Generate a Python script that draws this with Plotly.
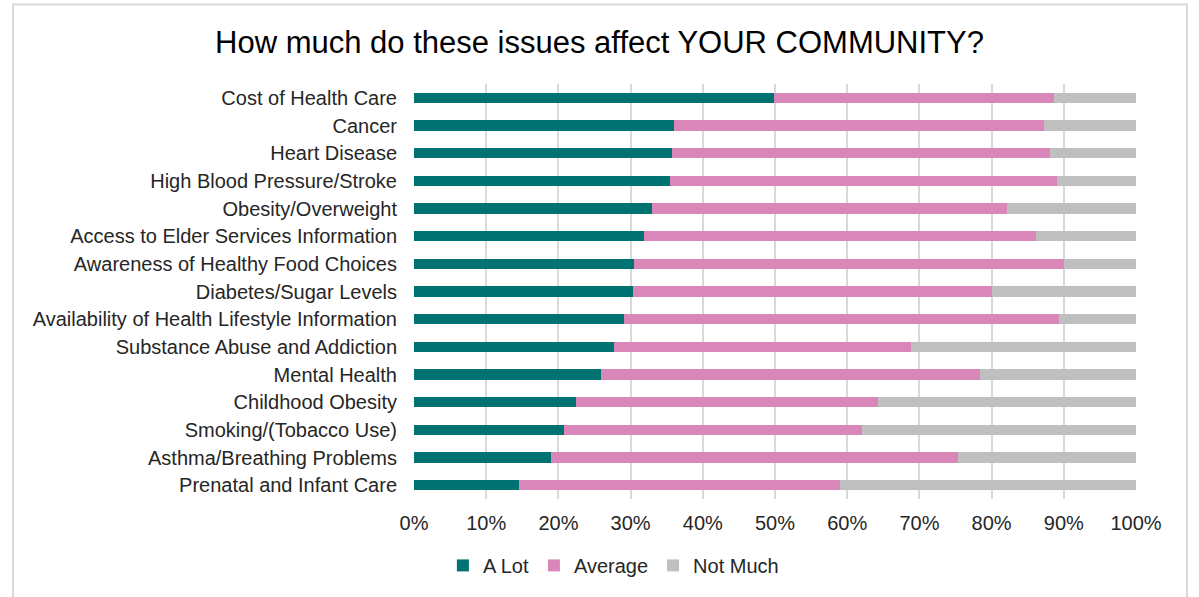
import plotly.graph_objects as go

# --- data (% of respondents) ---
issues = [
    "Cost of Health Care",
    "Cancer",
    "Heart Disease",
    "High Blood Pressure/Stroke",
    "Obesity/Overweight",
    "Access to Elder Services Information",
    "Awareness of Healthy Food Choices",
    "Diabetes/Sugar Levels",
    "Availability of Health Lifestyle Information",
    "Substance Abuse and Addiction",
    "Mental Health",
    "Childhood Obesity",
    "Smoking/(Tobacco Use)",
    "Asthma/Breathing Problems",
    "Prenatal and Infant Care",
]
a_lot = [49.8, 36.0, 35.7, 35.5, 33.0, 31.8, 30.5, 30.3, 29.1, 27.7, 25.9, 22.4, 20.8, 19.0, 14.6]
average = [38.8, 51.3, 52.4, 53.6, 49.1, 54.3, 59.5, 49.8, 60.3, 41.2, 52.5, 41.9, 41.2, 56.3, 44.4]
not_much = [11.4, 12.7, 11.9, 10.9, 17.9, 13.9, 10.0, 19.9, 10.6, 31.1, 21.6, 35.7, 38.0, 24.7, 41.0]

series = [
    ("A Lot", a_lot, "#007272"),
    ("Average", average, "#D986B9"),
    ("Not Much", not_much, "#BFBFBF"),
]

fig = go.Figure()
for name, vals, color in series:
    fig.add_trace(go.Bar(
        y=issues, x=vals, name=name, orientation="h",
        marker=dict(color=color, line=dict(width=0)),
    ))

fig.update_layout(
    barmode="stack",
    bargap=0.63,
    width=1199, height=597,
    paper_bgcolor="white", plot_bgcolor="white",
    font=dict(family="Liberation Sans, Arial, sans-serif", size=20, color="#262626"),
    title=dict(
        text="How much do these issues affect YOUR COMMUNITY?",
        x=0.5, xanchor="center", y=1 - 42 / 597, yanchor="middle",
        font=dict(size=31, color="#000000"),
    ),
    margin=dict(l=414, r=63, t=84, b=96),
    legend=dict(
        orientation="h", x=0.04, xanchor="left", y=-0.16, yanchor="middle",
        font=dict(size=20), itemwidth=30, traceorder="normal",
    ),
    showlegend=True,
    shapes=[dict(
        type="rect", xref="paper", yref="paper",
        x0=-401 / 722, x1=773 / 722, y0=-100 / 417, y1=80 / 417 + 1,
        line=dict(color="#D9D9D9", width=2), fillcolor="rgba(0,0,0,0)", layer="below",
    )],
)

fig.update_xaxes(
    range=[0, 100], tickvals=list(range(0, 101, 10)),
    ticktext=[f"{v}%" for v in range(0, 101, 10)],
    showgrid=True, gridcolor="#D9D9D9", gridwidth=2,
    zeroline=False, showline=False, ticks="", ticklabelstandoff=10,
)
fig.update_yaxes(
    categoryorder="array", categoryarray=issues, autorange="reversed",
    showgrid=False, showline=False, ticks="", ticklabelstandoff=16,
)

fig.write_html(
    "out.html",
    config={"displayModeBar": False},
    post_script="document.body.style.margin='0';",
)
